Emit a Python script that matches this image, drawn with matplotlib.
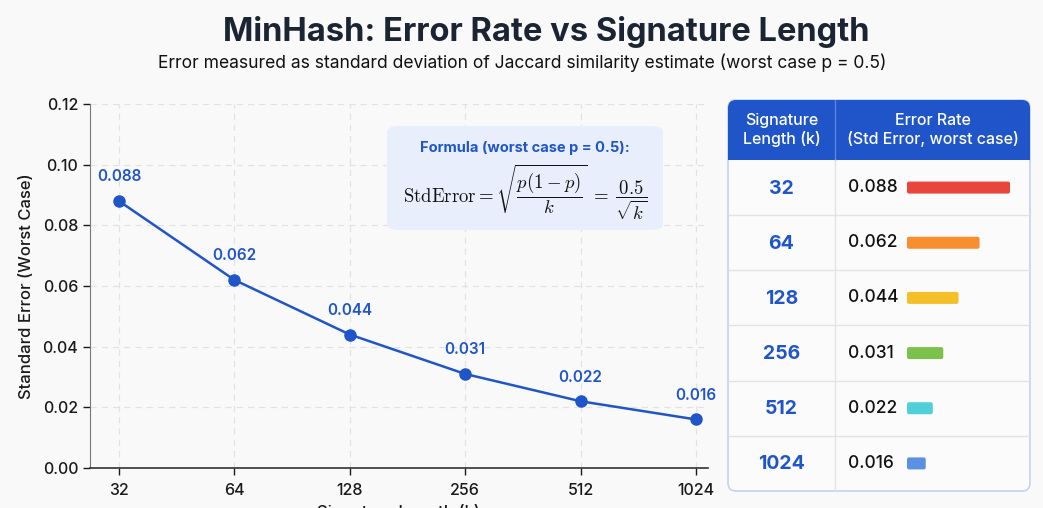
import matplotlib
matplotlib.use("Agg")
import matplotlib.pyplot as plt
from matplotlib.patches import FancyBboxPatch, Rectangle
import numpy as np

# ---- data ----
sig_lengths = [32, 64, 128, 256, 512, 1024]
std_errors = [0.088, 0.062, 0.044, 0.031, 0.022, 0.016]
tick_labels = ["32", "64", "128", "256", "512", "1024"]
bar_colors = ["#e8453c", "#f78f2e", "#f5bf2a", "#7cc24a", "#4fd0d8", "#5b8fe0"]
y_ticks = [0.00, 0.02, 0.04, 0.06, 0.08, 0.10, 0.12]

title = "MinHash: Error Rate vs Signature Length"
subtitle = "Error measured as standard deviation of Jaccard similarity estimate (worst case p = 0.5)"

plt.rcParams['font.family'] = ['Inter', 'DejaVu Sans']
plt.rcParams['mathtext.fontset'] = 'cm'

W, H = 1043, 508
BG = "#f9f9f9"
BLUE = "#1f55c9"
fig = plt.figure(figsize=(W / 100, H / 100), dpi=100, facecolor=BG)

def fx(px):
    return px / W

def fy(py):
    return 1 - py / H

fig.text(fx(546), fy(32), title, ha="center", va="center", fontsize=23.5,
         fontweight="bold", color="#1a2433")
fig.text(fx(522), fy(63), subtitle, ha="center", va="center", fontsize=12.6,
         color="#111111")

# ---- line chart ----
left, right, top, bottom = 90, 708, 104, 468
ax = fig.add_axes([fx(left), fy(bottom), fx(right - left), (bottom - top) / H])
ax.set_facecolor(BG)
ax.set_xscale("log", base=2)
ppo = (696 - 119) / 5.0
ax.set_xlim(2 ** (5 - (119 - left) / ppo), 2 ** (10 + (right - 696) / ppo))
ax.set_ylim(0, 0.12)
ax.plot(sig_lengths, std_errors, color=BLUE, lw=1.8, marker="o", ms=8,
        mfc=BLUE, mec=BLUE, zorder=3, clip_on=False)
for x, y in zip(sig_lengths, std_errors):
    ax.annotate(f"{y:.3f}", (x, y), xytext=(0, 12), textcoords="offset points",
                ha="center", va="bottom", color=BLUE, fontsize=11,
                fontweight="semibold")
ax.set_xticks(sig_lengths)
ax.set_xticklabels(tick_labels)
ax.xaxis.set_minor_locator(matplotlib.ticker.NullLocator())
ax.set_yticks(y_ticks)
ax.set_yticklabels([f"{v:.2f}" for v in y_ticks])
ax.tick_params(axis="both", labelsize=11.5, colors="#1a1a1a", length=5, width=1)
for lab in ax.get_xticklabels() + ax.get_yticklabels():
    lab.set_fontweight("medium")
ax.tick_params(axis="x", pad=6)
ax.grid(True, ls=(0, (5, 4)), color="#e2e2e2", lw=0.9)
ax.set_axisbelow(True)
for s in ["top", "right"]:
    ax.spines[s].set_visible(False)
ax.spines["left"].set_color("#777777")
ax.spines["bottom"].set_color("#333333")
ax.spines["bottom"].set_linewidth(1.2)
ax.set_ylabel("Standard Error (Worst Case)", fontsize=12, color="#1a1a1a",
              labelpad=6, fontweight="medium")
ax.set_xlabel("Signature Length (k)", fontsize=12, color="#1a1a1a",
              labelpad=4, fontweight="medium")

# formula box
box = FancyBboxPatch((fx(387), fy(230)), fx(663 - 387), (230 - 126) / H,
                     boxstyle="round,pad=0,rounding_size=0.012",
                     transform=fig.transFigure, facecolor="#e8eefb",
                     edgecolor="none", zorder=5)
fig.patches.append(box)
fig.text(fx(525), fy(148), "Formula (worst case p = 0.5):", ha="center",
         va="center", fontsize=10.5, fontweight="bold", color=BLUE, zorder=6)
fig.text(fx(525), fy(192),
         r"$\mathrm{StdError} = \sqrt{\dfrac{p(1-p)}{k}} \;=\; \dfrac{0.5}{\sqrt{k}}$",
         ha="center", va="center", fontsize=13.5, color="#111111", zorder=6)

# ---- table ----
tl, tr, tt, tb = 728, 1030, 100, 491
tax = fig.add_axes([fx(tl), fy(tb), fx(tr - tl), (tb - tt) / H])
tax.set_xlim(tl, tr)
tax.set_ylim(tb, tt)
tax.axis("off")
tax.patch.set_alpha(0)

outer = FancyBboxPatch((tl, tt), tr - tl, tb - tt,
                       boxstyle="round,pad=0,rounding_size=8",
                       facecolor="#fbfbfb", edgecolor="#c4d3f2", lw=1.2,
                       clip_on=False)
tax.add_patch(outer)
header_h = 60
hdr = FancyBboxPatch((tl, tt), tr - tl, header_h,
                     boxstyle="round,pad=0,rounding_size=8",
                     facecolor=BLUE, edgecolor="none", clip_on=False)
tax.add_patch(hdr)
tax.add_patch(Rectangle((tl, tt + header_h - 15), tr - tl, 15,
                        facecolor=BLUE, edgecolor="none"))
div_x = 835
tax.plot([div_x, div_x], [tt, tt + header_h], color="#5b84dc", lw=1)
tax.plot([div_x, div_x], [tt + header_h, tb], color="#e3e3e3", lw=1)
tax.text((tl + div_x) / 2, tt + header_h / 2, "Signature\nLength (k)",
         ha="center", va="center", color="white", fontsize=11.5,
         linespacing=1.3, fontweight="medium")
tax.text((div_x + tr) / 2, tt + header_h / 2, "Error Rate\n(Std Error, worst case)",
         ha="center", va="center", color="white", fontsize=11.5,
         linespacing=1.3, fontweight="medium")

n = len(sig_lengths)
row_h = (tb - tt - header_h) / n
bar_x0 = 907
bar_max_w = 103
scale = bar_max_w / max(std_errors)
for i, (k, e, c) in enumerate(zip(tick_labels, std_errors, bar_colors)):
    y0 = tt + header_h + i * row_h
    yc = y0 + row_h / 2
    if i < n - 1:
        tax.plot([tl + 1, tr - 1], [y0 + row_h, y0 + row_h], color="#e3e3e3", lw=1)
    tax.text((tl + div_x) / 2, yc + 1, k, ha="center", va="center",
             color=BLUE, fontsize=14, fontweight="bold")
    tax.text(848, yc, f"{e:.3f}", ha="left", va="center", color="#111111",
             fontsize=12.5, fontweight="medium")
    tax.add_patch(FancyBboxPatch((bar_x0, yc - 6), e * scale, 12,
                                 boxstyle="round,pad=0,rounding_size=2",
                                 facecolor=c, edgecolor="none"))

fig.savefig("out.png", dpi=100, facecolor=BG)
